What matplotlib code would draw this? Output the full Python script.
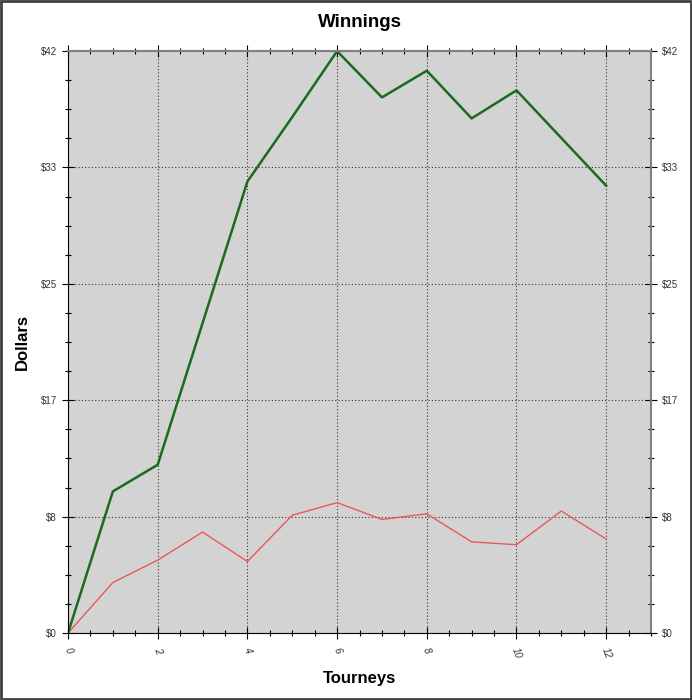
import matplotlib.pyplot as plt
import numpy as np
from matplotlib.ticker import MultipleLocator, FixedLocator
from matplotlib.patches import Rectangle

plt.rcParams['font.family'] = ['Liberation Sans', 'DejaVu Sans']

## Datos
torneos = [0, 1, 2, 3, 4, 5, 6, 7, 8, 9, 10, 11, 12]
ganancias_total = [0, 10.1, 12.0, 22.1, 32.2, 36.8, 41.5, 38.2, 40.1, 36.7, 38.7, 35.3, 31.9]
ganancias_torneo = [0, 3.6, 5.2, 7.2, 5.1, 8.4, 9.3, 8.1, 8.5, 6.5, 6.3, 8.7, 6.7]

y_max = 41.5
y_ticks = np.linspace(0, y_max, 6)
y_labels = ['$%d' % round(v) for v in y_ticks]

fig = plt.figure(figsize=(6.92, 7.00), dpi=100)
ax = fig.add_axes([0.0983, 0.0957, 0.8425, 0.8313])
ax.set_facecolor('#d3d3d3')

ax.plot(torneos, ganancias_torneo, color='#e8585a', linewidth=1.0)
ax.plot(torneos, ganancias_total, color='#1a6a1f', linewidth=1.8)

ax.set_xlim(0, 13)
ax.set_ylim(0, y_max)
ax.xaxis.set_major_locator(MultipleLocator(2))
ax.xaxis.set_minor_locator(MultipleLocator(0.5))
ax.yaxis.set_major_locator(FixedLocator(y_ticks))
ax.yaxis.set_minor_locator(FixedLocator(np.linspace(0, y_max, 21)))
ax.set_yticklabels(y_labels)

ax.grid(True, which='major', linestyle=(0, (1, 2)), color='#333333', linewidth=0.8)

ax.tick_params(axis='both', which='major', direction='inout', length=9, width=0.8,
               labelsize=7, labelcolor='#333333')
ax.tick_params(axis='both', which='minor', direction='inout', length=5, width=0.8)
ax.tick_params(axis='y', which='both', right=True, labelright=True)
ax.tick_params(axis='x', which='both', top=True)
ax.tick_params(axis='x', which='major', pad=5)
for lab in ax.get_xticklabels():
    lab.set_rotation(-70)
    lab.set_ha('center')
    lab.set_va('top')
    lab.set_fontstyle('italic')

ax.spines['top'].set_color('#808080')
ax.spines['right'].set_color('#808080')
ax.spines['top'].set_linewidth(1.5)
ax.spines['right'].set_linewidth(1.5)

ax.set_title('Winnings', fontsize=13.5, fontweight='bold', pad=17)
ax.set_xlabel('Tourneys', fontsize=12, fontweight='bold', labelpad=8)
ax.set_ylabel('Dollars', fontsize=12, fontweight='bold', labelpad=7.5)

## Marco exterior
fig.patches.append(Rectangle((0.001, 0.001), 0.998, 0.998, transform=fig.transFigure,
                             fill=False, edgecolor='#404040', linewidth=2))

fig.savefig('out.png', dpi=100)
